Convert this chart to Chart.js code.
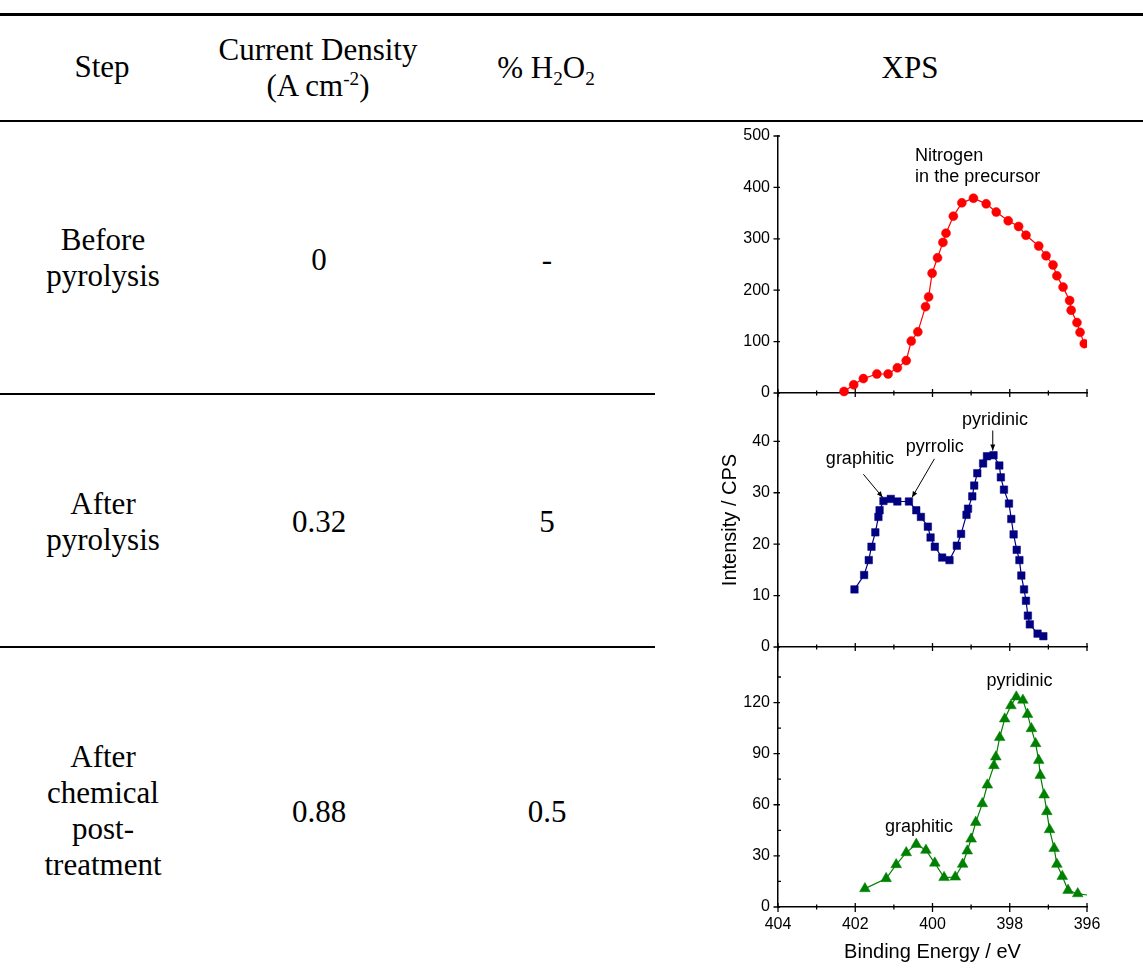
<!DOCTYPE html>
<html>
<head>
<meta charset="utf-8">
<title>Steps, activity and N 1s XPS</title>
<script src="https://cdn.jsdelivr.net/npm/chart.js@4.4.1/dist/chart.umd.min.js"></script>
<style>
  html, body { margin: 0; padding: 0; background: #fff; }
  body { width: 1143px; height: 968px; position: relative; overflow: hidden;
         font-family: "Liberation Serif", "Times New Roman", serif; color: #000; }
  .rule { position: absolute; left: 0; background: #000; }
  .cell { position: absolute; transform: translate(-50%, -50%); text-align: center;
          font-size: 31px; line-height: 36px; white-space: nowrap; }
  .cell sub, .cell sup { font-size: 0.62em; line-height: 0; }
  canvas { position: absolute; left: 690px; }
</style>
</head>
<body>

<div class="rule" style="top:13px;width:1143px;height:2.5px"></div>
<div class="rule" style="top:119.5px;width:1143px;height:2.5px"></div>
<div class="rule" style="top:393px;width:655px;height:2px"></div>
<div class="rule" style="top:645.5px;width:655px;height:2px"></div>

<div class="cell" style="left:102px;top:67px">Step</div>
<div class="cell" style="left:318px;top:68px">Current Density<br>(A cm<sup>-2</sup>)</div>
<div class="cell" style="left:546px;top:68px">% H<sub>2</sub>O<sub>2</sub></div>
<div class="cell" style="left:910px;top:68px">XPS</div>

<div class="cell" style="left:103px;top:258px">Before<br>pyrolysis</div>
<div class="cell" style="left:319px;top:260px">0</div>
<div class="cell" style="left:547px;top:260px">-</div>

<div class="cell" style="left:103px;top:522px">After<br>pyrolysis</div>
<div class="cell" style="left:319px;top:522px">0.32</div>
<div class="cell" style="left:547px;top:522px">5</div>

<div class="cell" style="left:103px;top:811px">After<br>chemical<br>post-<br>treatment</div>
<div class="cell" style="left:319px;top:812px">0.88</div>
<div class="cell" style="left:547px;top:812px">0.5</div>

<canvas id="before" width="453" height="293" style="top:118px"></canvas>
<canvas id="after" width="453" height="290" style="top:375px"></canvas>
<canvas id="post" width="453" height="339" style="top:629px"></canvas>

<script>
// N 1s spectra, binding energy (eV) and intensity (CPS)
const beforeEnergy = [402.29, 402.04, 401.79, 401.44, 401.15, 400.91, 400.68, 400.55, 400.38, 400.18,
    400.10, 400.01, 399.87, 399.73, 399.65, 399.46, 399.24, 398.94, 398.61, 398.35, 398.04, 397.77,
    397.58, 397.25, 397.06, 396.88, 396.78, 396.62, 396.45, 396.41, 396.26, 396.18, 396.07];
const beforeIntensity = [3, 16, 28, 37, 37, 49, 63, 101, 119, 168, 187, 233, 263, 293, 311, 344, 370,
    379, 368, 352, 335, 324, 307, 286, 267, 249, 228, 206, 180, 161, 137, 118, 96];

const afterEnergy = [402.02, 401.77, 401.65, 401.58, 401.48, 401.40, 401.37, 401.27, 401.08, 400.91,
    400.61, 400.42, 400.30, 400.12, 400.05, 399.94, 399.75, 399.56, 399.37, 399.26, 399.12, 399.08,
    398.97, 398.92, 398.84, 398.69, 398.59, 398.42, 398.27, 398.23, 398.15, 398.02, 397.96, 397.90,
    397.82, 397.75, 397.70, 397.63, 397.58, 397.53, 397.48, 397.28, 397.13];
const afterIntensity = [11.2, 14.0, 16.9, 19.5, 22.3, 25.3, 26.6, 28.4, 28.8, 28.3, 28.3, 26.6, 25.3,
    23.4, 21.3, 19.5, 17.4, 16.9, 19.7, 22.0, 25.7, 26.9, 29.3, 31.4, 33.8, 35.7, 37.1, 37.3, 35.3,
    33.0, 30.6, 27.9, 24.9, 21.9, 18.9, 16.9, 13.9, 11.2, 9.0, 6.1, 4.4, 2.6, 2.1];

const postEnergy = [401.75, 401.20, 400.94, 400.68, 400.42, 400.17, 399.94, 399.70, 399.41, 399.22,
    399.10, 399.00, 398.88, 398.71, 398.58, 398.41, 398.36, 398.26, 398.13, 397.97, 397.83, 397.66,
    397.54, 397.44, 397.33, 397.25, 397.21, 397.11, 397.04, 396.97, 396.85, 396.78, 396.64, 396.49,
    396.24, 395.80];
const postIntensity = [10.8, 16.7, 24.9, 31.9, 36.8, 33.3, 25.8, 17.3, 17.6, 25.1, 32.9, 39.9, 49.7,
    60.7, 71.6, 83.0, 88.1, 99.5, 110.4, 118.2, 123.3, 121.4, 113.1, 104.7, 95.9, 86.1, 77.3, 65.8,
    56.0, 45.4, 34.4, 25.1, 18.0, 9.8, 7.8, 6.4];

// peak labels, in data units (eV, CPS)
const beforeNotes = [{text: ['Nitrogen', 'in the precursor'], x: 400.45, y: 461, align: 'left'}];
const afterNotes = [
    {text: ['graphitic'], x: 401.88, y: 36.6},
    {text: ['pyrrolic'], x: 399.94, y: 38.9},
    {text: ['pyridinic'], x: 398.38, y: 44.1},
];
const afterArrows = [
    {from: [401.79, 33.6], to: [401.29, 29.1]},
    {from: [399.95, 36.6], to: [400.53, 29.1]},
    {from: [398.44, 42.1], to: [398.44, 38.2]},
];
const postNotes = [
    {text: ['pyridinic'], x: 397.75, y: 132.8},
    {text: ['graphitic'], x: 400.35, y: 46.8},
];

Chart.defaults.font.family = '"Liberation Sans", Arial, sans-serif';
Chart.defaults.color = '#000';

// tick marks crossing the axes, like the original plotting program
const tickMarks = {
    id: 'tickMarks',
    afterDraw(chart, args, opts) {
        const {ctx, chartArea: {left, bottom}, scales: {x, y}} = chart;
        ctx.save();
        ctx.strokeStyle = '#000';
        ctx.lineWidth = 1.3;
        ctx.beginPath();
        for (let v = Math.ceil(x.min); v <= x.max; v++) {
            const px = x.getPixelForValue(v);
            const major = v % 2 === 0;
            ctx.moveTo(px, bottom - (major ? 4 : 2.5));
            ctx.lineTo(px, bottom + (major ? opts.down : 2.5));
        }
        for (const t of y.ticks) {
            const py = y.getPixelForValue(t.value);
            ctx.moveTo(left - 4.5, py);
            ctx.lineTo(left + 2, py);
        }
        if (opts.minor) {
            for (let v = opts.minor; v < y.max; v += 2 * opts.minor) {
                const py = y.getPixelForValue(v);
                ctx.moveTo(left, py);
                ctx.lineTo(left + 3, py);
            }
        }
        ctx.stroke();
        ctx.restore();
    }
};

const notes = {
    id: 'notes',
    afterDatasetsDraw(chart, args, opts) {
        const {ctx, scales: {x, y}} = chart;
        ctx.save();
        ctx.font = '18px "Liberation Sans", Arial, sans-serif';
        ctx.fillStyle = '#000';
        ctx.strokeStyle = '#000';
        ctx.textBaseline = 'middle';
        for (const n of opts.labels || []) {
            ctx.textAlign = n.align || 'center';
            n.text.forEach((line, i) => {
                ctx.fillText(line, x.getPixelForValue(n.x), y.getPixelForValue(n.y) + i * 21);
            });
        }
        ctx.lineWidth = 1;
        for (const a of opts.arrows || []) {
            const x0 = x.getPixelForValue(a.from[0]), y0 = y.getPixelForValue(a.from[1]);
            const x1 = x.getPixelForValue(a.to[0]), y1 = y.getPixelForValue(a.to[1]);
            const ang = Math.atan2(y1 - y0, x1 - x0);
            ctx.beginPath();
            ctx.moveTo(x0, y0);
            ctx.lineTo(x1, y1);
            ctx.stroke();
            ctx.beginPath();
            ctx.moveTo(x1, y1);
            ctx.lineTo(x1 - 6 * Math.cos(ang) + 2.5 * Math.sin(ang), y1 - 6 * Math.sin(ang) - 2.5 * Math.cos(ang));
            ctx.lineTo(x1 - 6 * Math.cos(ang) - 2.5 * Math.sin(ang), y1 - 6 * Math.sin(ang) + 2.5 * Math.cos(ang));
            ctx.closePath();
            ctx.fill();
        }
        ctx.restore();
    }
};

Chart.register(tickMarks, notes);

function xAxis(withLabels) {
    return {
        type: 'linear', min: 396, max: 404, reverse: true,
        border: {display: true, color: '#000', width: 1.5},
        grid: {display: false, drawTicks: false, tickLength: 0},
        ticks: {display: withLabels, stepSize: 2, padding: 8, maxRotation: 0, font: {size: 16}},
        title: {display: withLabels, text: 'Binding Energy / eV', font: {size: 20}, padding: {top: 0, bottom: 4}},
        afterFit(s) { s.height = withLabels ? 61 : 18; }
    };
}

function yAxis(max, step, labelMax, title) {
    return {
        min: 0, max,
        border: {display: true, color: '#000', width: 1.5},
        grid: {display: false, drawTicks: false, tickLength: 0},
        ticks: {stepSize: step, includeBounds: false, padding: 8, font: {size: 16}},
        title: {display: !!title, text: title || '', font: {size: 20}, padding: {top: 28, bottom: 0}},
        afterBuildTicks(s) { s.ticks = s.ticks.filter(t => t.value <= labelMax); },
        afterFit(s) { s.width = 88; }
    };
}

function xpsChart(id, energy, intensity, color, marker, radius, axes, plugins) {
    return new Chart(document.getElementById(id), {
        type: 'line',
        data: {
            datasets: [{
                data: energy.map((e, i) => ({x: e, y: intensity[i]})),
                borderColor: color,
                backgroundColor: color,
                borderWidth: 1.2,
                tension: 0,
                pointStyle: marker,
                pointRadius: radius,
                pointBorderWidth: 0.5,
                pointBorderColor: color,
                pointBackgroundColor: color,
                clip: {left: false, top: false, right: 0, bottom: false},
            }]
        },
        options: {
            responsive: false,
            animation: false,
            layout: {autoPadding: false, padding: {top: 18, right: 56, left: 0, bottom: 0}},
            scales: axes,
            plugins: Object.assign({legend: {display: false}, tooltip: {enabled: false}}, plugins),
        }
    });
}

xpsChart('before', beforeEnergy, beforeIntensity, '#ff0000', 'circle', 4.5,
    {x: xAxis(false), y: yAxis(500, 100, 500)},
    {tickMarks: {down: 4}, notes: {labels: beforeNotes}});

xpsChart('after', afterEnergy, afterIntensity, '#000080', 'rect', 5.3,
    {x: xAxis(false), y: yAxis(49.4, 10, 40, 'Intensity / CPS')},
    {tickMarks: {down: 4}, notes: {labels: afterNotes, arrows: afterArrows}});

xpsChart('post', postEnergy, postIntensity, '#008000', 'triangle', 6.2,
    {x: xAxis(true), y: yAxis(152.6, 30, 120)},
    {tickMarks: {down: 5, minor: 15}, notes: {labels: postNotes}});
</script>
</body>
</html>
